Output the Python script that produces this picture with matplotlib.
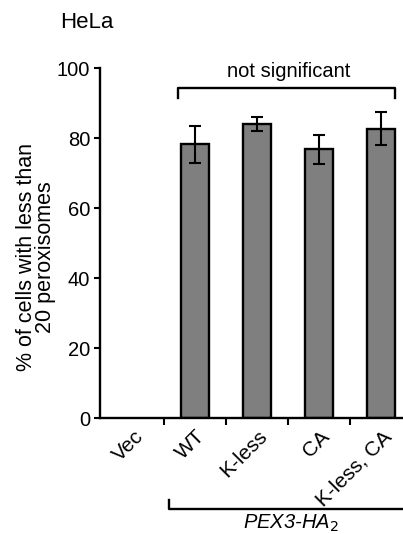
import matplotlib.pyplot as plt
import numpy as np

plt.rcParams['font.family'] = ['Liberation Sans', 'DejaVu Sans']

categories = ['Vec', 'WT', 'K-less', 'CA', 'K-less, CA']
values = [0, 78.2, 84.0, 76.8, 82.7]
errors = [0, 5.2, 2.0, 4.2, 4.6]

fig = plt.figure(figsize=(4.03, 5.34), dpi=100)
ax = fig.add_axes([100 / 403, 116 / 534, 312 / 403, 350 / 534])

x = np.arange(len(categories))
bx = x[1:]
ax.bar(bx, values[1:], width=0.45, color='#7f7f7f', edgecolor='black', linewidth=1.7, zorder=2)
ax.errorbar(bx, values[1:], yerr=errors[1:], fmt='none', ecolor='black',
            elinewidth=1.5, capsize=4, capthick=1.5, zorder=3)

ax.set_xlim(-0.53, 4.5)
ax.set_ylim(0, 100)
ax.set_yticks([0, 20, 40, 60, 80, 100])
ax.tick_params(axis='y', labelsize=14.5, length=4, width=1.5, direction='out', pad=3)
ax.set_xticks([0.5, 1.5, 2.5, 3.5])
ax.set_xticklabels([])
ax.tick_params(axis='x', length=5, width=1.5, direction='out')
for s in ['top', 'right']:
    ax.spines[s].set_visible(False)
for s in ['left', 'bottom']:
    ax.spines[s].set_linewidth(1.7)

# category labels, rotated
for xi, lab in zip(x, categories):
    ax.text(xi + 0.01, -2.5, lab, rotation=45, rotation_mode='anchor',
            ha='right', va='top', fontsize=15)

ax.set_ylabel('% of cells with less than\n20 peroxisomes', fontsize=15.5, linespacing=0.85)
ax.yaxis.set_label_coords(-0.142, 0.46)

# significance bracket
ax.plot([0.73, 0.73, 4.23, 4.23], [91.4, 94.3, 94.3, 91.4], color='black', lw=1.7, clip_on=False)
ax.text(2.52, 96.3, 'not significant', ha='center', va='bottom', fontsize=14.5)

# group bracket
ax.plot([0.58, 0.58, 4.6], [-23.4, -26.0, -26.0], color='black', lw=1.7, clip_on=False)
ax.text(2.55, -27.0, 'PEX3-HA$_{\\mathit{2}}$', ha='center', va='top', fontsize=14.5, style='italic')

fig.text(60 / 403, 1 - 22 / 534, 'HeLa', ha='left', va='center', fontsize=16)

fig.savefig('out.png', dpi=100)
